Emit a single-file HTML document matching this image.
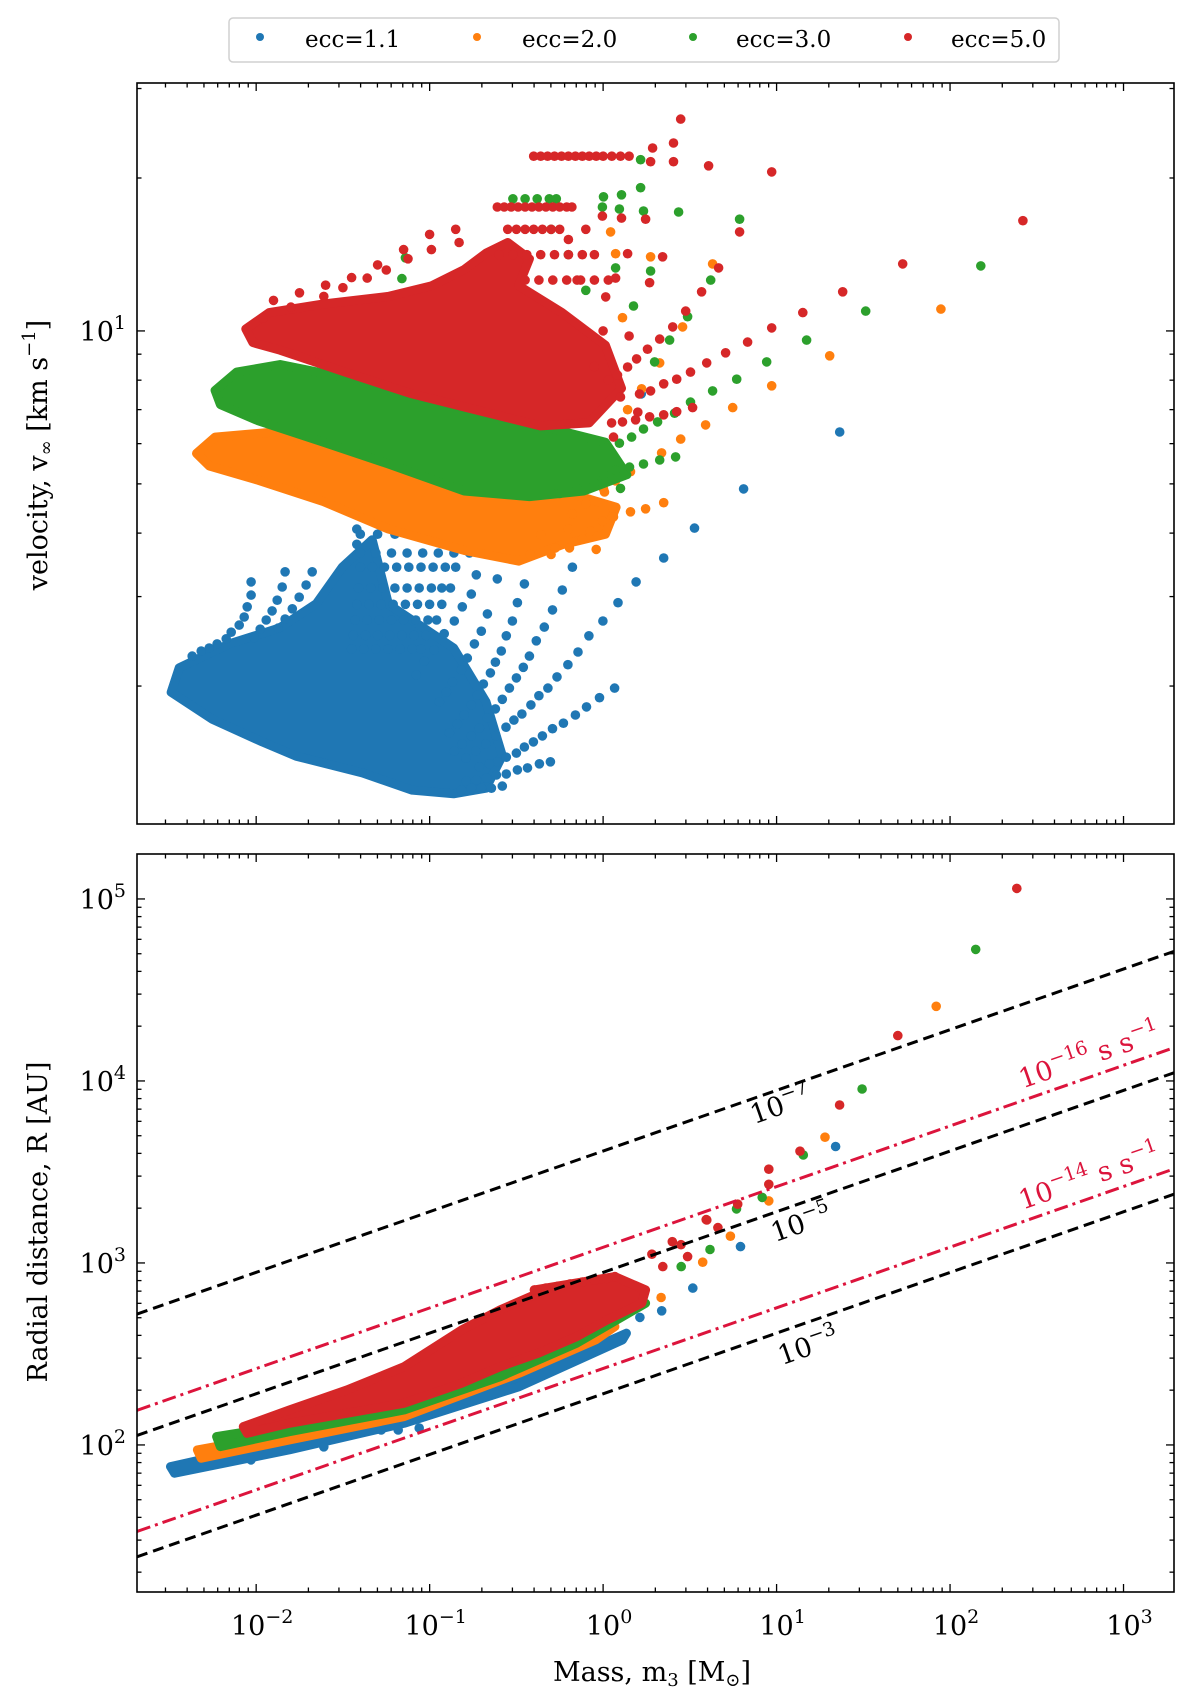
<!DOCTYPE html>
<html><head><meta charset="utf-8"><style>
html,body{margin:0;padding:0;background:#fff;}
svg{display:block;font-family:"DejaVu Serif","Liberation Serif",serif;}
</style></head><body>
<svg id="fig" width="1200" height="1696" viewBox="0 0 1200 1696" xmlns="http://www.w3.org/2000/svg">
<rect width="1200" height="1696" fill="#fff"/>
<g>
<rect x="229" y="18" width="830" height="44" rx="4" fill="#fff" stroke="#d0d0d0" stroke-width="1.5"/>
<circle cx="260" cy="37" r="4" fill="#1f77b4"/>
<text x="305" y="47" font-size="23">ecc=1.1</text>
<circle cx="477" cy="37" r="4" fill="#ff7f0e"/>
<text x="522" y="47" font-size="23">ecc=2.0</text>
<circle cx="693" cy="37" r="4" fill="#2ca02c"/>
<text x="736" y="47" font-size="23">ecc=3.0</text>
<circle cx="908" cy="37" r="4" fill="#d62728"/>
<text x="951" y="47" font-size="23">ecc=5.0</text>
</g>
<g id="top"></g>
<g id="bot"></g>
<text transform="translate(47,455) rotate(-90)" text-anchor="middle" font-size="27">velocity, v<tspan font-size="18" dy="5">∞</tspan><tspan dy="-5"> [km s</tspan><tspan font-size="18" dy="-12">−1</tspan><tspan dy="12">]</tspan></text>
<text transform="translate(47,1222) rotate(-90)" text-anchor="middle" font-size="27">Radial distance, R [AU]</text>
<text x="652" y="1681" text-anchor="middle" font-size="27">Mass, m<tspan font-size="18" dy="5">3</tspan><tspan dy="-5"> [M</tspan><tspan font-size="18" dy="5">⊙</tspan><tspan dy="-5">]</tspan></text>
</svg>
<script>
// ---- data (log10 mass [Msun], log10 value) ----
const massTickExps = [-2,-1,0,1,2,3];
const radiusTickExps = [2,3,4,5];
const velTickExps = [1];
const colors = ['#1f77b4','#ff7f0e','#2ca02c','#d62728'];
const seriesNames = ['ecc-1.1','ecc-2.0','ecc-3.0','ecc-5.0'];

// top panel dense clouds (log m, log v)
const blueCloudTop = [[-2.49,0.289],[-2.444,0.337],[-2.156,0.384],[-1.867,0.415],[-1.654,0.463],[-1.504,0.535],[-1.331,0.589],[-1.237,0.462],[-0.862,0.376],[-0.675,0.27],[-0.581,0.164],[-0.675,0.1],[-0.862,0.089],[-1.1,0.096],[-1.388,0.13],[-1.769,0.163],[-1.965,0.191],[-2.254,0.236]];
const orangeCloudTop = [[-2.344,0.759],[-2.237,0.791],[-1.862,0.802],[-1.425,0.759],[-0.862,0.717],[-0.237,0.685],[0.075,0.653],[0.013,0.6],[-0.237,0.579],[-0.487,0.547],[-0.8,0.568],[-1.237,0.61],[-1.612,0.664],[-1.987,0.706],[-2.269,0.734]];
const greenCloudTop = [[-2.237,0.883],[-2.112,0.919],[-1.862,0.934],[-1.487,0.908],[-0.987,0.866],[-0.362,0.813],[0.013,0.781],[0.137,0.717],[-0.112,0.685],[-0.425,0.674],[-0.8,0.685],[-1.237,0.738],[-1.612,0.781],[-1.987,0.823],[-2.206,0.855]];
const redCloudTop = [[-2.06,1.004],[-1.925,1.036],[-1.612,1.053],[-1.237,1.068],[-0.987,1.089],[-0.8,1.121],[-0.675,1.153],[-0.55,1.174],[-0.425,1.142],[-0.487,1.089],[-0.237,1.036],[0.013,0.972],[0.106,0.887],[-0.081,0.819],[-0.362,0.813],[-0.737,0.845],[-1.112,0.877],[-1.487,0.919],[-1.862,0.962],[-2.019,0.977]];

// top panel individual points
const bluePtsTop = [
[0.19,0.506],[0.086,0.465],[-0.001,0.429],[-0.082,0.4],[-0.145,0.368],[-0.203,0.343],[-0.266,0.319],[-0.318,0.297],[-0.37,0.282],[-0.416,0.264],[-0.468,0.246],[-0.514,0.234],[-0.56,0.22],[-0.618,0.203],[-0.676,0.187],[-0.734,0.173],[-0.791,0.159],
[0.066,0.297],[-0.021,0.278],[-0.096,0.26],[-0.16,0.244],[-0.229,0.228],[-0.292,0.217],[-0.35,0.203],[-0.402,0.191],[-0.454,0.181],[-0.5,0.169],[-0.558,0.161],[-0.61,0.152],[-0.656,0.148],[-0.714,0.142],
[-0.304,0.152],[-0.367,0.148],[-0.436,0.14],[-0.494,0.136],[-0.558,0.128],[-0.615,0.126],[-0.673,0.12],[-0.731,0.116],[-0.789,0.114],
[-0.581,0.104],[-0.644,0.1],[-0.702,0.1],[-0.76,0.1],[-0.817,0.096],
[-0.177,0.535],[-0.235,0.49],[-0.292,0.451],[-0.339,0.417],[-0.385,0.39],[-0.425,0.36],[-0.46,0.338],[-0.5,0.317],[-0.54,0.297],[-0.581,0.275],[-0.621,0.256],[-0.667,0.238],[-0.714,0.218],[-0.76,0.203],[-0.812,0.187],[-0.858,0.173],
[-0.454,0.502],[-0.494,0.465],[-0.523,0.429],[-0.558,0.4],[-0.587,0.37],[-0.621,0.348],[-0.65,0.327],[-0.69,0.305],[-0.725,0.283],[-0.76,0.264],[-0.8,0.244],[-0.84,0.226],[-0.886,0.209],
[-0.61,0.512],[-0.667,0.443],[-0.702,0.409],[-0.742,0.384],[-0.783,0.356],[-0.817,0.333],[-0.869,0.309],[-0.904,0.289],[-0.944,0.27],
[-0.731,0.52],[-0.76,0.482],[-0.812,0.457],[-0.858,0.429],[-0.916,0.404],[-0.973,0.372],[-1.031,0.35],[-1.077,0.323],
[-2.029,0.506],[-2.029,0.48],[-2.052,0.457],[-2.069,0.437],[-2.098,0.421],[-2.144,0.407],[-2.173,0.394],[-2.225,0.384],[-2.271,0.376],[-2.317,0.37],[-2.369,0.36],
[-1.833,0.526],[-1.85,0.496],[-1.879,0.47],[-1.908,0.449],[-1.942,0.431],[-1.977,0.413],[-2.012,0.396],
[-1.677,0.526],[-1.712,0.5],[-1.752,0.476],[-1.792,0.453],[-1.833,0.433],[-1.873,0.415],
[-1.42,0.61],[-1.42,0.58],[-1.42,0.56],
[1.364,0.801],[0.81,0.689],[0.527,0.612],[0.349,0.553],[0.07,0.74],[0.22,0.876],[-0.02,0.652]];
const blueRowVel = [0.6,0.563,0.535,0.494,0.462,0.431,0.401,0.374];
const blueRowMass = [
[-1.40,-1.30,-1.20,-1.10,-1.00,-0.90,-0.80,-0.70],
[-1.40,-1.31,-1.22,-1.13,-1.04,-0.95,-0.86,-0.77,-0.69],
[-1.40,-1.33,-1.26,-1.19,-1.12,-1.05,-0.98,-0.91,-0.85],
[-1.41,-1.34,-1.27,-1.20,-1.13,-1.06,-0.99,-0.93,-0.88],
[-1.42,-1.35,-1.28,-1.21,-1.14,-1.07,-1.00,-0.93],
[-1.43,-1.36,-1.29,-1.22,-1.15,-1.08,-1.01,-0.96],
[-1.44,-1.37,-1.30,-1.23,-1.16,-1.09,-1.02],
[-1.45,-1.38,-1.31,-1.24,-1.17,-1.10,-1.05]];

const orangePtsTop = [[0.043,1.195],[0.072,1.152],[0.274,1.146],[0.631,1.132],[1.947,1.043],[1.306,0.951],[0.972,0.892],[0.747,0.849],[0.591,0.815],[0.447,0.787],[0.337,0.76],[0.158,0.723],[0.072,0.705],[0.002,0.689],[0.349,0.662],[0.245,0.65],[0.158,0.644],[0.06,0.634],[-0.004,0.626],[0.458,1.008],[0.326,0.937],[0.222,0.886],[0.141,0.845],[0.112,1.026],[-0.194,0.573],[-0.275,0.573],[-0.36,0.599],[-0.073,0.606],[-0.177,0.64],[0.008,0.683],[-0.12,0.59],[-0.04,0.57],[-0.42,0.56],[-0.30,0.56],[-0.10,0.66],[-0.2,0.61]];
const greenPtsTop = [[0.216,1.337],[0.216,1.282],[0.106,1.268],[0.002,1.264],[-0.004,1.244],[0.094,1.24],[0.233,1.236],[0.435,1.234],[0.787,1.22],[2.177,1.128],[1.514,1.039],[1.173,0.982],[0.943,0.939],[0.77,0.905],[0.631,0.882],[0.504,0.86],[0.412,0.838],[0.314,0.821],[0.233,0.807],[0.164,0.791],[0.094,0.779],[0.02,0.77],[0.418,0.752],[0.326,0.746],[0.233,0.738],[0.152,0.732],[0.072,0.726],[0.002,0.718],[0.62,1.1],[0.487,1.028],[0.383,0.982],[0.297,0.939],[0.175,1.049],[0.072,1.124],[0.274,1.118],[-1.14,1.144],[-1.16,1.103],[-0.05,0.70],[-0.15,0.69],[-0.25,0.68],[0.10,0.69],[-0.52,1.26],[-0.45,1.26],[-0.38,1.26],[-0.31,1.26],[-0.27,1.26],[-0.3,1.2],[-0.2,1.15],[-0.1,1.08]];
const redPtsTop = [[0.447,1.417],[0.406,1.37],[0.406,1.333],[0.285,1.36],[0.274,1.333],[0.608,1.325],[0.972,1.313],[2.42,1.217],[1.727,1.132],[1.381,1.077],[1.151,1.036],[0.972,1.006],[0.833,0.978],[0.706,0.957],[0.597,0.937],[0.504,0.919],[0.424,0.905],[0.349,0.896],[0.274,0.882],[0.21,0.876],[0.787,1.195],[0.666,1.124],[0.568,1.077],[0.476,1.039],[0.401,1.008],[0.326,0.984],[0.256,0.964],[0.193,0.945],[0.343,1.146],[0.268,1.095],[0.245,1.22],[0.106,1.222],[-0.004,1.226],[0.141,1.152],[0.072,1.104],[0.015,1.067],[0.424,0.841],[0.349,0.835],[0.268,0.831],[0.187,0.825],[0.112,0.821],[0.049,0.819],[0.516,0.849],[0.083,0.913],[0.031,0.903],[0.141,0.929],[0.06,0.791],
[-1.125,1.142],[-0.99,1.16],[-0.83,1.174],[-1.36,1.104],[-1.61,1.068],[-1.80,1.047],[-1.96,1.025],[-1.25,1.12],[-1.5,1.085],
[-1.9,1.06],[-1.75,1.075],[-1.6,1.09],[-1.45,1.105],[-1.3,1.13],[-1.15,1.16],[-1.0,1.19],[-0.85,1.2],
[-0.1,1.2],[-0.2,1.18],[-0.05,1.15],[-0.15,1.1],[0.0,1.0],[-0.05,0.93],[0.15,0.99],[0.1,0.87],[0.2,0.84]];
const redRowVel = [1.344,1.244,1.2,1.15,1.1];
const redRowMass = [
[-0.40,-0.36,-0.32,-0.28,-0.24,-0.20,-0.16,-0.12,-0.08,-0.04,0.0,0.05,0.10,0.15],
[-0.61,-0.57,-0.53,-0.49,-0.45,-0.41,-0.37,-0.33,-0.29,-0.25,-0.21,-0.18],
[-0.55,-0.5,-0.45,-0.4,-0.35,-0.3,-0.25],
[-0.6,-0.52,-0.44,-0.36,-0.28,-0.2,-0.12],
[-0.45,-0.37,-0.29,-0.21,-0.13,-0.05,0.03]];

// bottom panel dense clouds (log m, log R)
const blueCloudBot = [[-2.494,1.881],[-1.809,2.027],[-1.147,2.156],[-0.484,2.375],[-0.043,2.54],[0.134,2.614],[0.112,2.577],[-0.484,2.32],[-1.147,2.119],[-1.809,1.973],[-2.471,1.845]];
const orangeCloudBot = [[-2.339,1.973],[-1.809,2.064],[-1.147,2.192],[-0.594,2.375],[-0.153,2.559],[0.068,2.65],[-0.043,2.577],[-0.484,2.394],[-1.147,2.156],[-1.809,2.027],[-2.317,1.927]];
const greenCloudBot = [[-2.228,2.046],[-1.809,2.11],[-1.147,2.229],[-0.594,2.43],[-0.153,2.595],[0.245,2.779],[0.179,2.742],[-0.153,2.559],[-0.594,2.375],[-1.147,2.192],[-1.809,2.073],[-2.207,1.991]];
const redCloudBot = [[-2.074,2.101],[-1.809,2.192],[-1.478,2.302],[-1.147,2.43],[-0.815,2.632],[-0.594,2.742],[-0.374,2.834],[-0.396,2.852],[0.068,2.925],[0.245,2.852],[0.223,2.779],[0.024,2.687],[-0.153,2.595],[-0.374,2.504],[-0.594,2.43],[-0.815,2.339],[-1.147,2.229],[-1.478,2.174],[-1.809,2.119],[-2.052,2.064]];
const bluePtsBot = [[1.34,3.64],[0.792,3.09],[0.517,2.862],[0.338,2.737],[0.212,2.701],[-1.279,2.082],[-1.181,2.082],[-1.06,2.093],[-1.61,1.99],[-2.03,1.918],[-0.79,2.247]];
const orangePtsBot = [[1.92,4.41],[1.279,3.691],[0.955,3.341],[0.734,3.147],[0.574,3.004],[0.334,2.81]];
const greenPtsBot = [[2.148,4.723],[1.493,3.956],[1.154,3.593],[0.917,3.36],[0.769,3.297],[0.616,3.074],[0.45,2.98]];
const redPtsBot = [[2.385,5.058],[1.699,4.249],[1.363,3.868],[1.135,3.614],[0.955,3.515],[0.955,3.432],[0.776,3.323],[0.594,3.238],[0.662,3.194],[0.449,3.1],[0.281,3.048],[0.399,3.117],[0.598,3.236],[0.487,3.035],[0.344,2.98],
[-0.396,2.852],[-0.33,2.862],[-0.26,2.872],[-0.19,2.885],[-0.12,2.895],[-0.05,2.905],[0.02,2.915],[0.068,2.925]];

// reference lines: log R = a + slope * log m
const lineSlope = 1/3;
const dashedIntercepts = [3.615, 2.948, 2.281];
const dashedLabels = ['−7','−5','−3'];
const dashdotIntercepts = [3.086, 2.42];
const dashdotLabels = ['−16','−14'];

// ---- axes ----
const NS='http://www.w3.org/2000/svg';
const X0=137, X1=1174, XMIN=-2.687, XMAX=3.291;
const X = lm => X0 + (lm - XMIN)/(XMAX - XMIN)*(X1 - X0);
const TOP={y0:83,y1:824,min:0.0295,max:1.488};
const BOT={y0:854,y1:1592,min:1.192,max:5.247};
const Yf = ax => (lv => ax.y0 + (ax.max - lv)/(ax.max - ax.min)*(ax.y1 - ax.y0));
const YT=Yf(TOP), YB=Yf(BOT);

function mk(tag, attrs, parent){
  const e=document.createElementNS(NS,tag);
  for(const k in attrs) e.setAttribute(k,attrs[k]);
  parent.appendChild(e); return e;
}
const topG=document.getElementById('top'), botG=document.getElementById('bot');

function clip(g,id,ax){
  const d=mk('defs',{},g);
  const cp=mk('clipPath',{id:id},d);
  mk('rect',{x:X0,y:ax.y0,width:X1-X0,height:ax.y1-ax.y0},cp);
  const inner=mk('g',{'clip-path':'url(#'+id+')'},g);
  
  
  return inner;
}
const topP=clip(topG,'ct',TOP), botP=clip(botG,'cb',BOT);

function cloud(g,pts,Y,c,name){
  const p=mk('polygon',{points:pts.map(q=>X(q[0]).toFixed(1)+','+Y(q[1]).toFixed(1)).join(' '),fill:c,stroke:c,'stroke-width':9,'stroke-linejoin':'round'},g);
  
  
}
function dots(g,pts,Y,c,name){
  for(const q of pts){
    const e=mk('circle',{cx:X(q[0]).toFixed(1),cy:Y(q[1]).toFixed(1),r:4.8,fill:c},g);
    
    
  }
}
function rows(g,vels,masses,Y,c,name){
  vels.forEach((v,i)=>{dots(g,masses[i].map(m=>[m,v]),Y,c,name);});
}
// top panel
cloud(topP,blueCloudTop,YT,colors[0],'cloud-ecc-1.1');
dots(topP,bluePtsTop,YT,colors[0],'point-ecc-1.1');
rows(topP,blueRowVel,blueRowMass,YT,colors[0],'point-ecc-1.1');
cloud(topP,orangeCloudTop,YT,colors[1],'cloud-ecc-2.0');
dots(topP,orangePtsTop,YT,colors[1],'point-ecc-2.0');
cloud(topP,greenCloudTop,YT,colors[2],'cloud-ecc-3.0');
dots(topP,greenPtsTop,YT,colors[2],'point-ecc-3.0');
cloud(topP,redCloudTop,YT,colors[3],'cloud-ecc-5.0');
dots(topP,redPtsTop,YT,colors[3],'point-ecc-5.0');
rows(topP,redRowVel,redRowMass,YT,colors[3],'point-ecc-5.0');
// bottom panel
cloud(botP,blueCloudBot,YB,colors[0],'cloud-ecc-1.1');
dots(botP,bluePtsBot,YB,colors[0],'point-ecc-1.1');
cloud(botP,orangeCloudBot,YB,colors[1],'cloud-ecc-2.0');
dots(botP,orangePtsBot,YB,colors[1],'point-ecc-2.0');
cloud(botP,greenCloudBot,YB,colors[2],'cloud-ecc-3.0');
dots(botP,greenPtsBot,YB,colors[2],'point-ecc-3.0');
cloud(botP,redCloudBot,YB,colors[3],'cloud-ecc-5.0');
dots(botP,redPtsBot,YB,colors[3],'point-ecc-5.0');

function refLine(a,stroke,dash,name){
  const l=mk('line',{x1:X(XMIN),y1:YB(a+lineSlope*XMIN),x2:X(XMAX),y2:YB(a+lineSlope*XMAX),stroke:stroke,'stroke-width':3,'stroke-dasharray':dash},botP);
  
  
}
dashedIntercepts.forEach((a,i)=>refLine(a,'#000','11 6','dashed-line-'+i));
dashdotIntercepts.forEach((a,i)=>refLine(a,'#dc143c','14 5 3 5','dashdot-line-'+i));
const ang=Math.atan2(YB(lineSlope)-YB(0),X(1)-X(0))*180/Math.PI;
function lineLabel(a,lm,off,txt,extra,col,name){
  const x=X(lm), y=YB(a+lineSlope*lm)+off;
  const t=mk('text',{transform:`translate(${x.toFixed(1)},${y.toFixed(1)}) rotate(${ang.toFixed(1)})`,'text-anchor':'middle','font-size':27,fill:col},botG);
  
  
  t.innerHTML='10<tspan font-size="19" dy="-12">'+txt+'</tspan>'+(extra?'<tspan dy="12"> s s</tspan><tspan font-size="19" dy="-12">−1</tspan>':'');
}
lineLabel(dashedIntercepts[0],1.04,26,dashedLabels[0],false,'#000','label-dashed-0');
lineLabel(dashedIntercepts[1],1.16,30,dashedLabels[1],false,'#000','label-dashed-1');
lineLabel(dashedIntercepts[2],1.2,34,dashedLabels[2],false,'#000','label-dashed-2');
lineLabel(dashdotIntercepts[0],2.82,-12,dashdotLabels[0],true,'#dc143c','label-dashdot-0');
lineLabel(dashdotIntercepts[1],2.82,-12,dashdotLabels[1],true,'#dc143c','label-dashdot-1');

// frames & ticks
function frame(g,ax,Y,yMajors,yMinorRange,showX,name){
  const f=mk('rect',{x:X0,y:ax.y0,width:X1-X0,height:ax.y1-ax.y0,fill:'none',stroke:'#000','stroke-width':1.6},g);
  
  
  const tk=[];
  for(let e=-3;e<=3;e++){for(let k=1;k<=9;k++){const lm=e+Math.log10(k);if(lm<XMIN||lm>XMAX)continue;tk.push([lm,k===1?8:4.5]);}}
  for(const [lm,L] of tk){
    const x=X(lm);
    mk('line',{x1:x,y1:ax.y1,x2:x,y2:ax.y1-L,stroke:'#000','stroke-width':1.3},g);
    mk('line',{x1:x,y1:ax.y0,x2:x,y2:ax.y0+L,stroke:'#000','stroke-width':1.3},g);
  }
  for(let e=yMinorRange[0];e<=yMinorRange[1];e++){for(let k=1;k<=9;k++){const lv=e+Math.log10(k);if(lv<ax.min||lv>ax.max)continue;const L=k===1?8:4.5;const y=Y(lv);
    mk('line',{x1:X0,y1:y,x2:X0+L,y2:y,stroke:'#000','stroke-width':1.3},g);
    mk('line',{x1:X1,y1:y,x2:X1-L,y2:y,stroke:'#000','stroke-width':1.3},g);}}
  for(const e of yMajors){
    const t=mk('text',{x:126,y:Y(e)+10,'text-anchor':'end','font-size':27},g);
    
    
    t.innerHTML='10<tspan font-size="19" dy="-12">'+String(e).replace('-','−')+'</tspan>';
  }
  if(showX){
    for(const e of massTickExps){
      const t=mk('text',{x:X(e)+6,y:1635,'text-anchor':'middle','font-size':27},g);
      
      
      t.innerHTML='10<tspan font-size="19" dy="-12">'+String(e).replace('-','−')+'</tspan>';
    }
  }
}
frame(topG,TOP,YT,velTickExps,[0,1],false,'velocity-panel');
frame(botG,BOT,YB,radiusTickExps,[1,5],true,'radius-panel');
</script>
</body></html>
